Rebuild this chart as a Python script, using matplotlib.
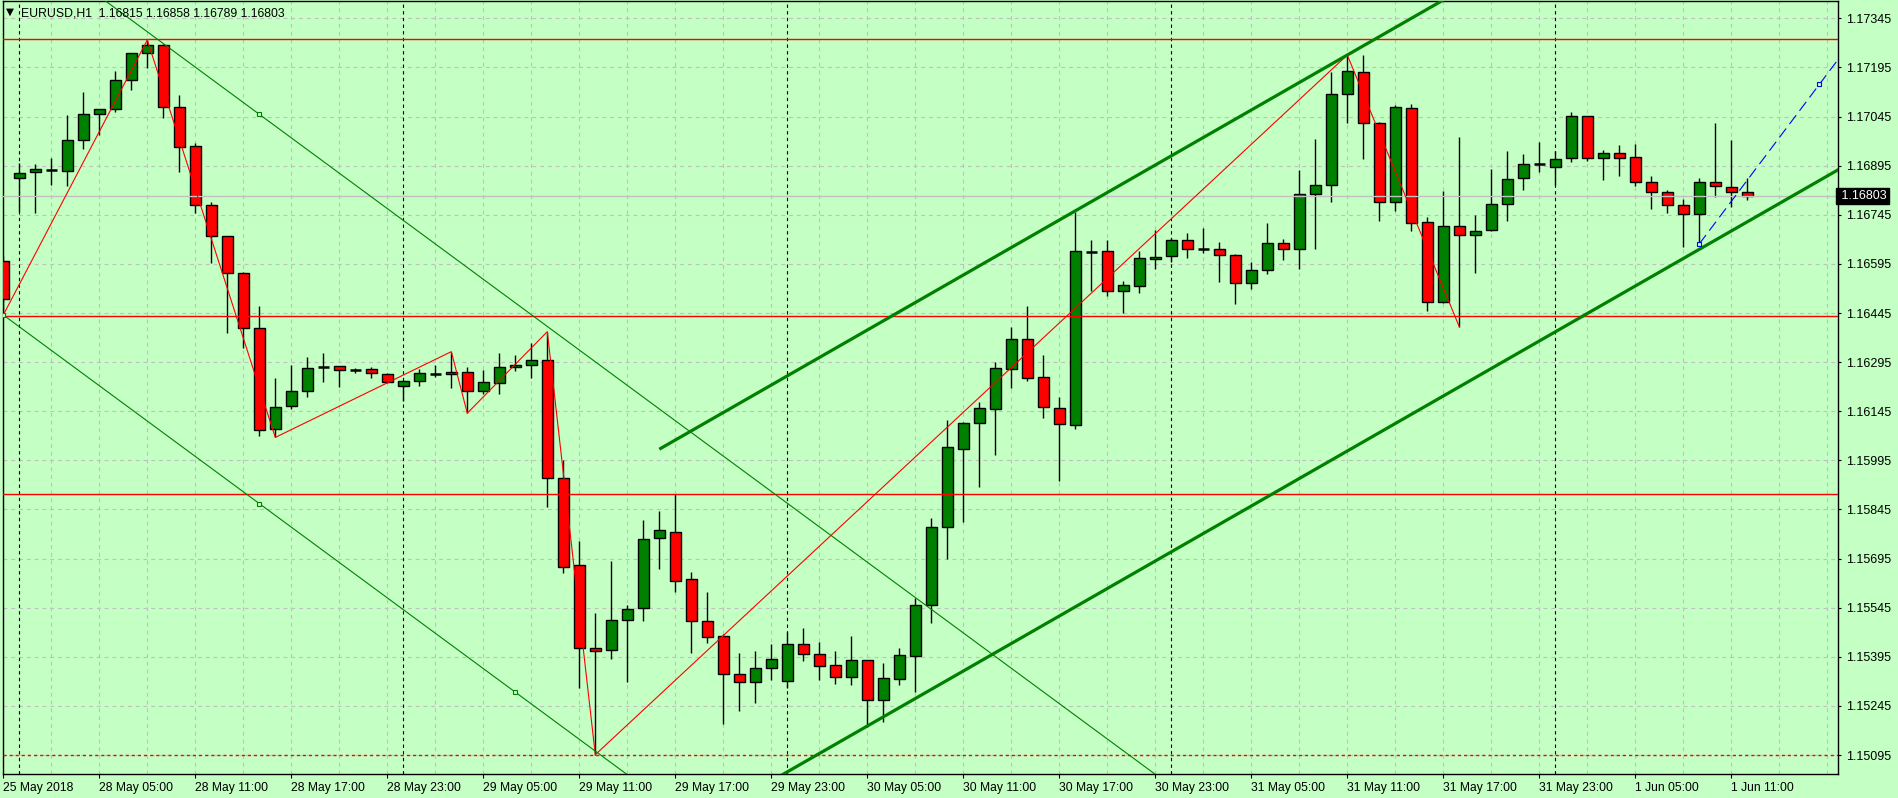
import matplotlib
matplotlib.use("Agg")
import matplotlib.pyplot as plt
import matplotlib.transforms as mtransforms
import numpy as np

# EURUSD H1 candles, 25 May 2018 23:00 .. 1 Jun 2018 12:00
opens = [1.16604, 1.16856, 1.16876, 1.16882, 1.16880, 1.16972, 1.17052, 1.17067, 1.17156, 1.17238,
         1.17263, 1.17073, 1.16955, 1.16775, 1.16680, 1.16566, 1.16398, 1.16090, 1.16160, 1.16206,
         1.16281, 1.16282, 1.16271, 1.16273, 1.16258, 1.16221, 1.16236, 1.16259, 1.16258, 1.16264,
         1.16206, 1.16230, 1.16279, 1.16285, 1.16300, 1.15940, 1.15674, 1.15421, 1.15415, 1.15506,
         1.15543, 1.15757, 1.15775, 1.15632, 1.15503, 1.15457, 1.15341, 1.15317, 1.15360, 1.15320,
         1.15433, 1.15402, 1.15369, 1.15334, 1.15384, 1.15262, 1.15328, 1.15398, 1.15552, 1.15792,
         1.16029, 1.16108, 1.16151, 1.16275, 1.16365, 1.16249, 1.16154, 1.16102, 1.16632, 1.16633,
         1.16511, 1.16527, 1.16609, 1.16618, 1.16667, 1.16640, 1.16639, 1.16621, 1.16536, 1.16575,
         1.16658, 1.16642, 1.16807, 1.16835, 1.17113, 1.17180, 1.17024, 1.16785, 1.17070, 1.16722,
         1.16479, 1.16710, 1.16682, 1.16699, 1.16777, 1.16856, 1.16899, 1.16890, 1.16917, 1.17046,
         1.16917, 1.16933, 1.16920, 1.16844, 1.16814, 1.16774, 1.16746, 1.16846, 1.16829, 1.16815]
highs = [1.16619, 1.16902, 1.16900, 1.16917, 1.17050, 1.17120, 1.17069, 1.17184, 1.17239, 1.17279,
         1.17266, 1.17110, 1.16963, 1.16785, 1.16680, 1.16571, 1.16466, 1.16245, 1.16286, 1.16311,
         1.16322, 1.16283, 1.16276, 1.16281, 1.16261, 1.16240, 1.16274, 1.16286, 1.16327, 1.16281,
         1.16271, 1.16322, 1.16317, 1.16352, 1.16388, 1.15996, 1.15749, 1.15528, 1.15687, 1.15553,
         1.15813, 1.15841, 1.15892, 1.15654, 1.15593, 1.15464, 1.15407, 1.15412, 1.15434, 1.15470,
         1.15482, 1.15440, 1.15412, 1.15458, 1.15384, 1.15375, 1.15421, 1.15575, 1.15818, 1.16118,
         1.16113, 1.16174, 1.16296, 1.16403, 1.16466, 1.16317, 1.16187, 1.16754, 1.16668, 1.16668,
         1.16543, 1.16635, 1.16698, 1.16674, 1.16688, 1.16704, 1.16662, 1.16625, 1.16600, 1.16719,
         1.16671, 1.16882, 1.16978, 1.17181, 1.17233, 1.17233, 1.17029, 1.17080, 1.17083, 1.16739,
         1.16818, 1.16983, 1.16744, 1.16885, 1.16940, 1.16931, 1.16968, 1.16940, 1.17059, 1.17046,
         1.16943, 1.16958, 1.16961, 1.16863, 1.16821, 1.16793, 1.16856, 1.17026, 1.16973, 1.16858]
lows = [1.16439, 1.16753, 1.16751, 1.16836, 1.16834, 1.16947, 1.16988, 1.17060, 1.17127, 1.17192,
        1.17040, 1.16876, 1.16751, 1.16599, 1.16385, 1.16339, 1.16070, 1.16065, 1.16151, 1.16189,
        1.16235, 1.16220, 1.16262, 1.16248, 1.16231, 1.16177, 1.16223, 1.16250, 1.16217, 1.16139,
        1.16197, 1.16197, 1.16269, 1.16247, 1.15853, 1.15652, 1.15300, 1.15096, 1.15387, 1.15319,
        1.15505, 1.15664, 1.15594, 1.15407, 1.15436, 1.15189, 1.15230, 1.15255, 1.15324, 1.15299,
        1.15383, 1.15324, 1.15312, 1.15309, 1.15181, 1.15197, 1.15309, 1.15288, 1.15497, 1.15694,
        1.15807, 1.15914, 1.16011, 1.16217, 1.16238, 1.16125, 1.15932, 1.16092, 1.16513, 1.16498,
        1.16444, 1.16507, 1.16580, 1.16601, 1.16614, 1.16627, 1.16540, 1.16473, 1.16519, 1.16564,
        1.16607, 1.16580, 1.16639, 1.16785, 1.17026, 1.16914, 1.16727, 1.16757, 1.16696, 1.16452,
        1.16476, 1.16403, 1.16568, 1.16696, 1.16727, 1.16821, 1.16876, 1.16836, 1.16907, 1.16910,
        1.16851, 1.16864, 1.16834, 1.16763, 1.16749, 1.16647, 1.16656, 1.16800, 1.16768, 1.16789]
closes = [1.16489, 1.16872, 1.16884, 1.16882, 1.16972, 1.17052, 1.17067, 1.17156, 1.17238, 1.17263,
          1.17073, 1.16951, 1.16775, 1.16680, 1.16566, 1.16398, 1.16088, 1.16157, 1.16206, 1.16276,
          1.16281, 1.16270, 1.16271, 1.16261, 1.16233, 1.16236, 1.16261, 1.16259, 1.16264, 1.16206,
          1.16233, 1.16279, 1.16286, 1.16300, 1.15940, 1.15670, 1.15421, 1.15413, 1.15506, 1.15540,
          1.15754, 1.15782, 1.15628, 1.15503, 1.15454, 1.15341, 1.15317, 1.15360, 1.15387, 1.15433,
          1.15402, 1.15368, 1.15334, 1.15384, 1.15262, 1.15329, 1.15399, 1.15552, 1.15792, 1.16035,
          1.16108, 1.16154, 1.16276, 1.16365, 1.16247, 1.16157, 1.16105, 1.16633, 1.16632, 1.16511,
          1.16530, 1.16612, 1.16615, 1.16667, 1.16642, 1.16640, 1.16621, 1.16536, 1.16575, 1.16658,
          1.16642, 1.16807, 1.16835, 1.17113, 1.17183, 1.17024, 1.16785, 1.17073, 1.16721, 1.16479,
          1.16710, 1.16682, 1.16697, 1.16777, 1.16853, 1.16899, 1.16899, 1.16915, 1.17046, 1.16917,
          1.16933, 1.16917, 1.16844, 1.16814, 1.16774, 1.16746, 1.16846, 1.16832, 1.16814, 1.16803]

time_labels = ["25 May 2018", "28 May 05:00", "28 May 11:00", "28 May 17:00", "28 May 23:00",
               "29 May 05:00", "29 May 11:00", "29 May 17:00", "29 May 23:00", "30 May 05:00",
               "30 May 11:00", "30 May 17:00", "30 May 23:00", "31 May 05:00", "31 May 11:00",
               "31 May 17:00", "31 May 23:00", "1 Jun 05:00", "1 Jun 11:00"]
label_every = 6
day_start_bars = [1, 25, 49, 73, 97]

price_ticks = [1.17345, 1.17195, 1.17045, 1.16895, 1.16745, 1.16595, 1.16445, 1.16295,
               1.16145, 1.15995, 1.15845, 1.15695, 1.15545, 1.15395, 1.15245, 1.15095]

# zigzag swing points (bar, L/H)
zigzag_bars = [0, 9, 17, 28, 29, 34, 37, 84, 91]
zigzag_kind = ["L", "H", "L", "H", "L", "H", "L", "H", "L"]

red_levels = [1.17281, 1.16437, 1.15892]
red_dotted_level = 1.15095

# thin falling channel
fall_b0 = (0, 1.16439)
fall_b1 = (32, 1.15287)
fall_top_mid = (16, 1.17052)

# thick rising channel
rise_bar = 41
rise_top = 1.16029
rise_slope = 0.00028
rise_width = 0.012095

blue_p1 = (106, 1.16656)
blue_p2 = (113.5, 1.17143)

bid = 1.16803

BG = "#c4ffc4"
GREEN = "#008000"
RED = "#ff0000"
GRID = "#c0c0c0"

plt.rcParams["font.family"] = ["Liberation Sans", "DejaVu Sans"]

fig = plt.figure(figsize=(18.98, 7.98), dpi=100, facecolor=BG)
ax = fig.add_axes([2.5 / 1898, 24 / 798, 1835.5 / 1898, 773 / 798])
ax.set_facecolor(BG)
ax.set_xlim(-0.05, 114.67)
ax.set_ylim(1.15037, 1.17398)

n = len(opens)
x = np.arange(n)
o = np.array(opens)
h = np.array(highs)
l = np.array(lows)
c = np.array(closes)

# grid
for p in price_ticks:
    ax.axhline(p, color=GRID, lw=0.8, ls=(0, (3.5, 3.5)), zorder=0)
for gx in range(0, 115, 3):
    ax.axvline(gx, color=GRID, lw=0.8, ls=(0, (3.5, 3.5)), zorder=0)
for d in day_start_bars:
    ax.axvline(d, color="black", lw=0.8, ls=(0, (3, 3)), zorder=1)

# candles
ax.vlines(x, l, h, color="black", lw=1, zorder=3)
doji = o == c
body = ~doji
cols = np.where(c > o, GREEN, RED)
ax.bar(x[body], np.abs(c - o)[body], bottom=np.minimum(o, c)[body], width=0.66,
       color=cols[body], edgecolor="black", linewidth=1, zorder=4)
ax.hlines(c[doji], x[doji] - 0.33, x[doji] + 0.33, color="black", lw=1.8, zorder=4)

# horizontal levels
for lv in red_levels:
    ax.axhline(lv, color=RED, lw=1, zorder=5)
ax.axhline(red_dotted_level, color=RED, lw=1, ls=(0, (2.2, 2.2)), zorder=5)
ax.axhline(bid, color=GRID, lw=1, zorder=5)

# zigzag
zz_y = [lows[b] if k == "L" else highs[b] for b, k in zip(zigzag_bars, zigzag_kind)]
ax.plot(zigzag_bars, zz_y, color=RED, lw=0.8, zorder=6)

# thin falling channel
fall_slope = (fall_b1[1] - fall_b0[1]) / (fall_b1[0] - fall_b0[0])
ax.axline(fall_b0, slope=fall_slope, color=GREEN, lw=0.8, zorder=6)
ax.axline(fall_top_mid, slope=fall_slope, color=GREEN, lw=0.8, zorder=6)
mk_x = [fall_b0[0], fall_top_mid[0], fall_b1[0], fall_top_mid[0]]
mk_y = [fall_b0[1], fall_top_mid[1], fall_b1[1],
        fall_b0[1] + fall_slope * (fall_top_mid[0] - fall_b0[0])]
ax.plot(mk_x, mk_y, ls="none", marker="s", ms=3.5, mfc=BG, mec=GREEN, mew=0.8, zorder=7)

# thick rising channel
xe = np.array([rise_bar, 120])
top_line = rise_top + rise_slope * (xe - rise_bar)
ax.plot(xe, top_line, color=GREEN, lw=2.3, zorder=6, solid_capstyle="butt")
ax.plot(xe, top_line - rise_width, color=GREEN, lw=2.3, zorder=6, solid_capstyle="butt")

# blue dashed trend ray
bslope = (blue_p2[1] - blue_p1[1]) / (blue_p2[0] - blue_p1[0])
ax.plot([blue_p1[0], 120], [blue_p1[1], blue_p1[1] + bslope * (120 - blue_p1[0])],
        color="#0000ff", lw=0.8, ls=(0, (10, 5)), zorder=6)
ax.plot([blue_p1[0], blue_p2[0]], [blue_p1[1], blue_p2[1]], ls="none", marker="s", ms=3.5,
        mfc=BG, mec="#0000ff", mew=0.8, zorder=7)

# axes styling
for s in ax.spines.values():
    s.set_color("black")
    s.set_linewidth(1)
ax.yaxis.tick_right()
ax.set_yticks(price_ticks)
ax.set_yticklabels([f"{p:.5f}" for p in price_ticks])
ax.tick_params(axis="y", direction="out", length=2.5, width=0.8, pad=3.5, labelsize=9,
               colors="black")
ax.set_xticks(list(range(0, n, label_every)))
ax.set_xticklabels(time_labels)
ax.tick_params(axis="x", direction="out", length=3, width=0.8, pad=3, labelsize=8.7,
               colors="black")
for t in ax.get_xticklabels():
    t.set_ha("left")

trans = mtransforms.blended_transform_factory(ax.transAxes, ax.transData)
ax.text(1.0, bid, " " + f"{bid:.5f}", transform=trans, ha="left", va="center",
        fontsize=9, color="white",
        bbox=dict(boxstyle="square,pad=0.18", fc="black", ec="black"), zorder=10)

fig.text(6 / 1898, 1 - 12 / 798, "\u25bc", fontsize=7.5, family="DejaVu Sans",
         va="center", ha="left")
fig.text(21 / 1898, 1 - 13 / 798,
         f"EURUSD,H1  {opens[-1]:.5f} {highs[-1]:.5f} {lows[-1]:.5f} {closes[-1]:.5f}",
         fontsize=8.8, va="center", ha="left")

fig.savefig("out.png", dpi=100, facecolor=BG)
